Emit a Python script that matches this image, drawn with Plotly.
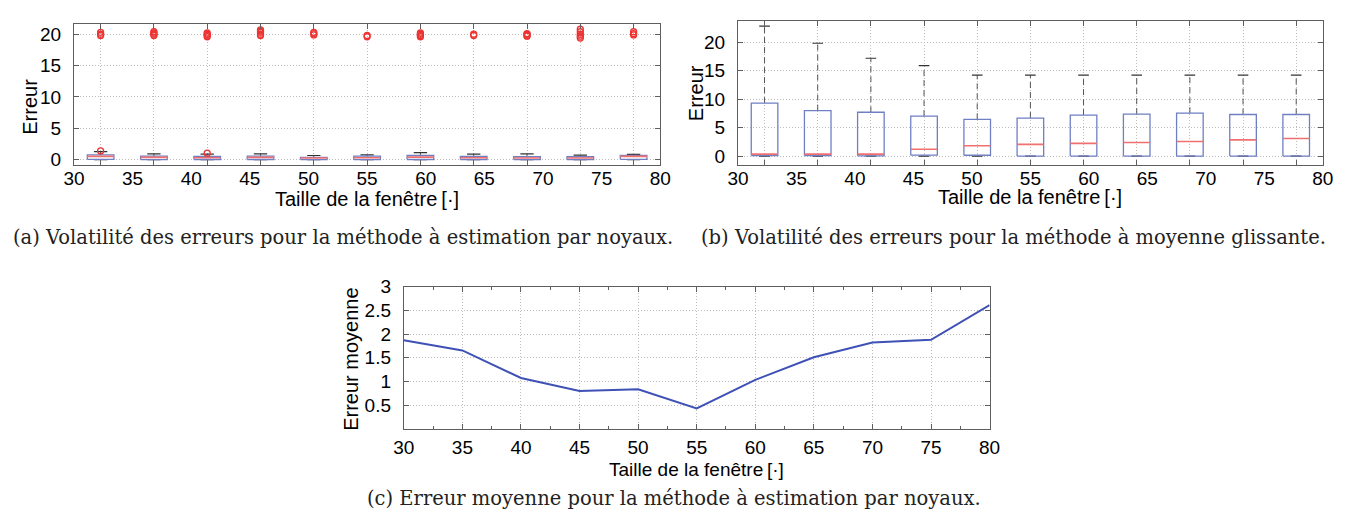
import numpy as np
import plotly.graph_objects as go

# Window sizes (labels of the horizontal axes)
fenetres = [30, 35, 40, 45, 50, 55, 60, 65, 70, 75, 80]

# (a) kernel estimation: box statistics per window size
q1_a = [0.05, 0.02, 0.03, 0.03, 0.02, 0.02, 0.03, 0.03, 0.02, 0.02, 0.05]
med_a = [0.52, 0.36, 0.31, 0.36, 0.26, 0.31, 0.41, 0.31, 0.26, 0.26, 0.52]
q3_a = [0.78, 0.57, 0.52, 0.57, 0.36, 0.57, 0.67, 0.52, 0.47, 0.47, 0.67]
lo_a = [0.0] * 11
hi_a = [1.29, 0.93, 0.88, 0.93, 0.67, 0.78, 1.14, 0.88, 0.93, 0.72, 0.83]
out_a = [
    [1.40, 19.8, 20.0, 20.3],
    [19.8, 20.0, 20.2, 20.4],
    [1.03, 19.6, 19.8, 20.0, 20.2],
    [19.8, 20.0, 20.3, 20.5, 20.7],
    [19.9, 20.1, 20.3],
    [19.6, 19.8],
    [19.6, 19.8, 20.0, 20.2],
    [19.8, 20.0],
    [19.7, 19.8, 20.0, 20.1],
    [19.4, 19.7, 20.0, 20.4, 20.8],
    [19.9, 20.1, 20.4],
]

# (b) moving average: box statistics per window size
q1_b = [0.10, 0.10, 0.05, 0.17, 0.15, 0.0, 0.0, 0.0, 0.0, 0.0, 0.0]
med_b = [0.34, 0.34, 0.34, 1.20, 1.83, 2.06, 2.23, 2.40, 2.57, 2.86, 3.09]
q3_b = [9.31, 8.00, 7.71, 7.03, 6.46, 6.69, 7.20, 7.37, 7.54, 7.31, 7.31]
lo_b = [0.0] * 11
hi_b = [22.86, 19.83, 17.20, 15.89, 14.23, 14.23, 14.23, 14.23, 14.23, 14.23, 14.23]

# (c) mean error of the kernel method
erreur_moy = [1.87, 1.655, 1.075, 0.80, 0.836, 0.433, 1.034, 1.51, 1.82, 1.88, 2.61]

W, H = 1351, 513
SANS = "Liberation Sans, Arial, sans-serif"
SERIF = "DejaVu Serif, serif"

BOX_C = "#6f7fc4"
MED_C = "#f07070"
WHISK_C = "#555555"
CAP_C = "#333333"
GRID_C = "#bdbdbd"
FRAME_C = "#5e5e5e"

pos = np.arange(1, len(fenetres) + 1)


def px_x(v):
    return v / W


def px_y(v):
    return 1 - v / H


def box_traces(q1, med, q3, lo, hi, xa, ya, hw=0.25, cw=0.125):
    bx, by, mx, my, wx, wy, cx, cy = [], [], [], [], [], [], [], []
    for p, a, m, b, l, h in zip(pos, q1, med, q3, lo, hi):
        bx += [p - hw, p + hw, p + hw, p - hw, p - hw, None]
        by += [a, a, b, b, a, None]
        mx += [p - hw, p + hw, None]
        my += [m, m, None]
        wx += [p, p, None, p, p, None]
        wy += [b, h, None, l, a, None]
        cx += [p - cw, p + cw, None, p - cw, p + cw, None]
        cy += [h, h, None, l, l, None]
    common = dict(xaxis=xa, yaxis=ya, mode="lines", showlegend=False, hoverinfo="skip")
    return [
        go.Scatter(x=wx, y=wy, line=dict(color=WHISK_C, width=1, dash="6px,4px"), **common),
        go.Scatter(x=cx, y=cy, line=dict(color=CAP_C, width=1.2), **common),
        go.Scatter(x=bx, y=by, line=dict(color=BOX_C, width=1.3), **common),
        go.Scatter(x=mx, y=my, line=dict(color=MED_C, width=1.6), **common),
    ]


fig = go.Figure()

for t in box_traces(q1_a, med_a, q3_a, lo_a, hi_a, "x", "y", cw=0.125):
    fig.add_trace(t)

ox, oy = [], []
for p, vals in zip(pos, out_a):
    ox += [p] * len(vals)
    oy += vals
fig.add_trace(go.Scatter(
    x=ox, y=oy, xaxis="x", yaxis="y", mode="markers", showlegend=False,
    marker=dict(symbol="circle-open", size=6, color="#ee3333", line=dict(width=1.3)),
))

for t in box_traces(q1_b, med_b, q3_b, lo_b, hi_b, "x2", "y2", cw=0.1):
    fig.add_trace(t)

fig.add_trace(go.Scatter(
    x=fenetres, y=erreur_moy, xaxis="x3", yaxis="y3", mode="lines",
    showlegend=False, line=dict(color="#3f51b5", width=2),
))

# invisible traces so that the label axes are drawn
fig.add_trace(go.Scatter(x=[1], y=[0], xaxis="x4", yaxis="y", mode="markers",
                         marker=dict(opacity=0), showlegend=False, hoverinfo="skip"))
fig.add_trace(go.Scatter(x=[1], y=[0], xaxis="x5", yaxis="y2", mode="markers",
                         marker=dict(opacity=0), showlegend=False, hoverinfo="skip"))

tickfont = dict(family=SANS, size=19, color="black")

frame = dict(showline=True, linecolor=FRAME_C, linewidth=1, mirror="ticks",
             ticks="inside", ticklen=5, tickcolor=FRAME_C,
             showgrid=True, gridcolor=GRID_C, griddash="1px,2px", gridwidth=1,
             zeroline=False, tickfont=tickfont)

rng_box = [0.5, len(fenetres) + 0.5]
label_pos = np.linspace(rng_box[0], rng_box[1], len(fenetres))

fig.update_layout(
    width=W, height=H,
    margin=dict(l=0, r=0, t=0, b=0),
    paper_bgcolor="white", plot_bgcolor="white",
    xaxis=dict(frame, domain=[px_x(64), px_x(660)], range=rng_box, anchor="y",
               tickvals=pos, showticklabels=False),
    yaxis=dict(frame, domain=[px_y(160), px_y(14)], range=[-0.9, 21.7], anchor="x",
               tickvals=[0, 5, 10, 15, 20], ticklabelstandoff=8),
    xaxis4=dict(overlaying="x", anchor="y", side="bottom", range=rng_box,
                tickvals=label_pos, ticktext=[str(f) for f in fenetres],
                showgrid=False, showline=False, ticks="", zeroline=False, tickfont=tickfont),
    xaxis2=dict(frame, domain=[px_x(739), px_x(1333.5)], range=rng_box, anchor="y2",
                tickvals=pos, showticklabels=False),
    yaxis2=dict(frame, domain=[px_y(159.3), px_y(11)], range=[-1.5, 23.8], anchor="x2",
                tickvals=[0, 5, 10, 15, 20], ticklabelstandoff=8),
    xaxis5=dict(overlaying="x2", anchor="y2", side="bottom", range=rng_box,
                tickvals=label_pos, ticktext=[str(f) for f in fenetres],
                showgrid=False, showline=False, ticks="", zeroline=False, tickfont=tickfont),
    xaxis3=dict(frame, domain=[px_x(399.3), px_x(994.8)], range=[30, 80], anchor="y3",
                tickvals=fenetres, ticktext=[str(f) for f in fenetres],
                ticklabelstandoff=1,
                minor=dict(ticks="inside", ticklen=3, tickcolor=FRAME_C, dtick=2.5,
                           showgrid=False)),
    yaxis3=dict(frame, domain=[px_y(431.5), px_y(285)], range=[0, 3], anchor="x3",
                tickvals=[0.5, 1, 1.5, 2, 2.5, 3], ticktext=["0.5", "1", "1.5", "2", "2.5", "3"],
                ticklabelstandoff=8),
)

axis_title = dict(family=SANS, size=20, color="black")
caption_font = dict(family=SERIF, size=19.5, color="#222222")
xlabel = "Taille de la fenêtre\u2009[·]"

annotations = [
    dict(text=xlabel, x=px_x(362), y=px_y(195), font=axis_title),
    dict(text=xlabel, x=px_x(1036), y=px_y(193), font=axis_title),
    dict(text=xlabel, x=px_x(697), y=px_y(473), font=dict(axis_title, size=19)),
    dict(text="Erreur", x=px_x(19), y=px_y(100), font=axis_title, textangle=-90),
    dict(text="Erreur", x=px_x(697), y=px_y(86), font=axis_title, textangle=-90),
    dict(text="Erreur moyenne", x=px_x(346), y=px_y(360), font=axis_title, textangle=-90),
    dict(text="(a) Volatilité des erreurs pour la méthode à estimation par noyaux.",
         x=px_x(337.5), y=px_y(234), font=caption_font),
    dict(text="(b) Volatilité des erreurs pour la méthode à moyenne glissante.",
         x=px_x(1019), y=px_y(234), font=caption_font),
    dict(text="(c) Erreur moyenne pour la méthode à estimation par noyaux.",
         x=px_x(673.5), y=px_y(503), font=caption_font),
]
for a in annotations:
    a.update(xref="paper", yref="paper", showarrow=False, xanchor="center", yanchor="middle")
fig.update_layout(annotations=annotations)

fig.write_html("out.html")
